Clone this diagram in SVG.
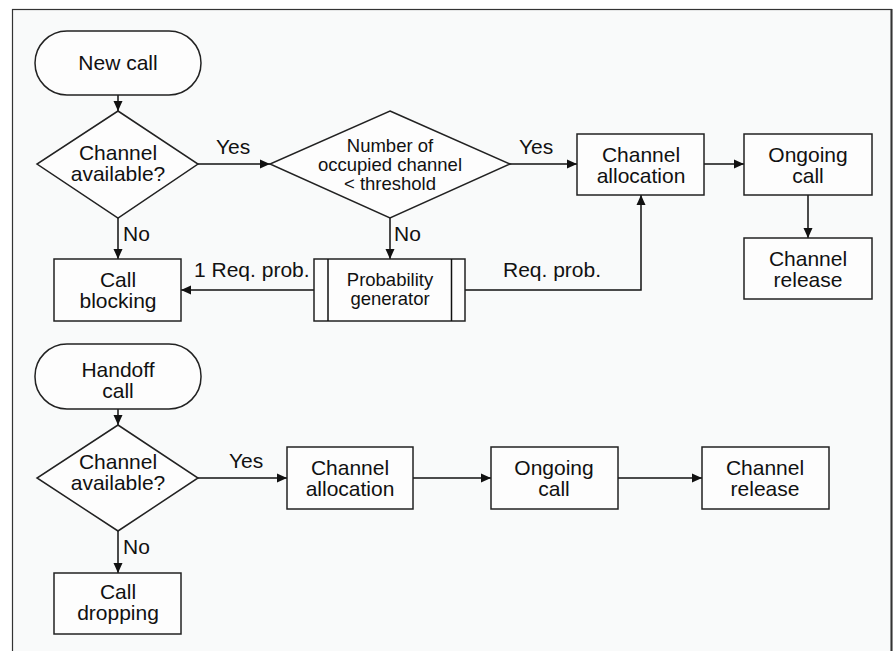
<svg xmlns="http://www.w3.org/2000/svg" width="893" height="651" viewBox="0 0 893 651">
<defs>
<marker id="ah" viewBox="0 0 10 10" refX="10" refY="5" markerWidth="10" markerHeight="10" markerUnits="userSpaceOnUse" orient="auto">
<path d="M0,0.5 L10,5 L0,9.5 Z" fill="#111"/>
</marker>
</defs>
<style>
.n{fill:#fdfdfd;stroke:#222;stroke-width:1.5}
.t{font-family:"Liberation Sans",Arial,sans-serif;font-size:21px;fill:#111;text-anchor:middle}
.s{font-family:"Liberation Sans",Arial,sans-serif;font-size:18.5px;fill:#111;text-anchor:middle}
.c{fill:none;stroke:#111;stroke-width:1.5;marker-end:url(#ah)}
.p{fill:none;stroke:#111;stroke-width:1.5}
.l{font-family:"Liberation Sans",Arial,sans-serif;font-size:21px;fill:#111}
</style>
<rect x="0" y="0" width="893" height="651" fill="#ffffff"/>
<rect x="12.5" y="9.5" width="879" height="660" fill="#f9fafa" stroke="#333" stroke-width="1.2"/>
<line x1="891.5" y1="9" x2="891.5" y2="651" stroke="#333" stroke-width="2"/>

<g id="connectors">
<line class="c" x1="118" y1="95" x2="118" y2="111"/>
<line class="c" x1="198" y1="164" x2="270" y2="164"/>
<line class="c" x1="118" y1="218" x2="118" y2="259"/>
<line class="c" x1="390" y1="218" x2="390" y2="259"/>
<line class="c" x1="510" y1="164" x2="577" y2="164"/>
<line class="c" x1="314" y1="290" x2="181" y2="290"/>
<polyline class="c" points="465,290 641,290 641,195"/>
<line class="c" x1="704" y1="164" x2="744" y2="164"/>
<line class="c" x1="808" y1="195" x2="808" y2="238"/>
<line class="c" x1="118" y1="409" x2="118" y2="425"/>
<line class="c" x1="198" y1="478" x2="287" y2="478"/>
<line class="c" x1="118" y1="531" x2="118" y2="573"/>
<line class="c" x1="413" y1="478" x2="491" y2="478"/>
<line class="c" x1="618" y1="478" x2="702" y2="478"/>
<text class="l" x="216" y="154">Yes</text>
<text class="l" x="519" y="154">Yes</text>
<text class="l" x="123" y="241">No</text>
<text class="l" x="394" y="241">No</text>
<text class="l" x="194" y="277">1 Req. prob.</text>
<text class="l" x="503" y="277">Req. prob.</text>
<text class="l" x="229" y="468">Yes</text>
<text class="l" x="123" y="554">No</text>
</g>

<g id="new-call">
<rect class="n" x="35" y="31" width="166" height="64" rx="32" ry="32"/>
<text class="t" x="118" y="70">New call</text>
</g>
<g id="channel-available-1">
<polygon class="n" points="118,111 198,164 118,218 37,164"/>
<text class="t" x="118" y="160">Channel</text>
<text class="t" x="118" y="181">available?</text>
</g>
<g id="threshold">
<polygon class="n" points="390,111 510,164 390,218 270,164"/>
<text class="s" x="390" y="152">Number of</text>
<text class="s" x="390" y="171">occupied channel</text>
<text class="s" x="390" y="190">&lt; threshold</text>
</g>
<g id="call-blocking">
<rect class="n" x="54" y="259" width="127" height="62"/>
<text class="t" x="118" y="287">Call</text>
<text class="t" x="118" y="308">blocking</text>
</g>
<g id="probability-generator">
<rect class="n" x="314" y="259" width="151" height="62"/>
<line class="p" x1="328" y1="259" x2="328" y2="321"/>
<line class="p" x1="451.5" y1="259" x2="451.5" y2="321"/>
<text class="s" x="390" y="286">Probability</text>
<text class="s" x="390" y="305">generator</text>
</g>
<g id="channel-allocation-1">
<rect class="n" x="577" y="134" width="127" height="61"/>
<text class="t" x="641" y="162">Channel</text>
<text class="t" x="641" y="183">allocation</text>
</g>
<g id="ongoing-call-1">
<rect class="n" x="744" y="134" width="128" height="61"/>
<text class="t" x="808" y="162">Ongoing</text>
<text class="t" x="808" y="183">call</text>
</g>
<g id="channel-release-1">
<rect class="n" x="744" y="238" width="128" height="61"/>
<text class="t" x="808" y="266">Channel</text>
<text class="t" x="808" y="287">release</text>
</g>

<g id="handoff-call">
<rect class="n" x="35" y="344" width="166" height="65" rx="32" ry="32"/>
<text class="t" x="118" y="377">Handoff</text>
<text class="t" x="118" y="398">call</text>
</g>
<g id="channel-available-2">
<polygon class="n" points="118,425 198,478 118,531 37,478"/>
<text class="t" x="118" y="469">Channel</text>
<text class="t" x="118" y="490">available?</text>
</g>
<g id="call-dropping">
<rect class="n" x="54" y="573" width="127" height="61"/>
<text class="t" x="118" y="599">Call</text>
<text class="t" x="118" y="620">dropping</text>
</g>
<g id="channel-allocation-2">
<rect class="n" x="287" y="447" width="126" height="62"/>
<text class="t" x="350" y="475">Channel</text>
<text class="t" x="350" y="496">allocation</text>
</g>
<g id="ongoing-call-2">
<rect class="n" x="491" y="447" width="127" height="62"/>
<text class="t" x="554" y="475">Ongoing</text>
<text class="t" x="554" y="496">call</text>
</g>
<g id="channel-release-2">
<rect class="n" x="702" y="447" width="127" height="62"/>
<text class="t" x="765" y="475">Channel</text>
<text class="t" x="765" y="496">release</text>
</g>
</svg>
